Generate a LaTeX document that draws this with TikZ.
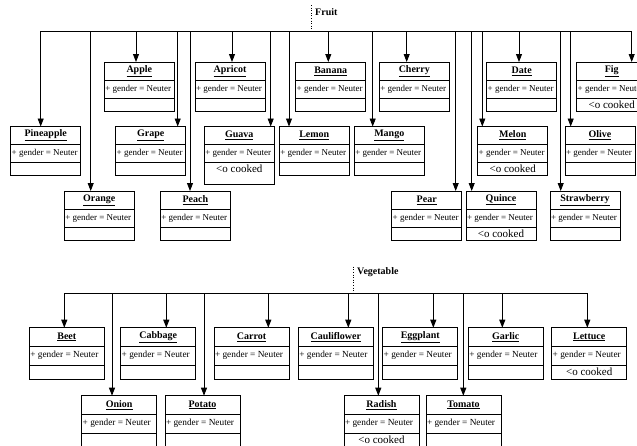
\documentclass[tikz,border=0pt]{standalone}
\usepackage{fontspec}
\setmainfont{Liberation Serif}
\usetikzlibrary{arrows.meta,calc}
\newcommand\bw{70}
\newcommand\da{18}
\newcommand\db{36}
\newcommand\ta{9}
\newcommand\tb{27}
\newcommand\attrsize{9}
\newcommand\busname{fbus}
\tikzset{
  umlcls/.style={draw, line width=0.9pt, inner sep=0pt, outer sep=0pt, fill=white},
  umlline/.style={line width=0.9pt},
  umltitle/.style={inner sep=0pt, font=\bfseries\fontsize{10}{11}\selectfont},
  umlattr/.style={inner sep=0pt, anchor=west, font=\fontsize{\attrsize}{9}\selectfont},
  umlcook/.style={inner sep=0pt, font=\fontsize{11}{12}\selectfont},
  conn/.style={line width=0.9pt, -{Triangle[length=8pt,width=6pt]}},
  busline/.style={line width=0.9pt},
  pkglabel/.style={inner sep=0pt, anchor=west, font=\bfseries\fontsize{10}{11}\selectfont},
  dotline/.style={line width=0.6pt, dotted}
}
% #1 name, #2 left x, #3 top y, #4 drop x, #5 height
\newcommand\cls[5]{%
  \node[umlcls, minimum width=\bw pt, minimum height=#5 pt, anchor=north west] (#1) at (#2,#3) {};
  \draw[umlline] ([yshift=-\da pt]#1.north west) -- ([yshift=-\da pt]#1.north east);
  \draw[umlline] ([yshift=-\db pt]#1.north west) -- ([yshift=-\db pt]#1.north east);
  \node[umltitle] at ([yshift=-\ta pt]#1.north) {\underline{#1}};
  \node[umlattr] at ([yshift=-\tb pt,xshift=0.8pt]#1.north west) {+ gender = Neuter};
  \coordinate (#1-d) at (#4,0 |- \busname);
  \draw[conn] (#1-d) -- (#1-d |- #1.north);
}
\newcommand\cooked[1]{%
  \node[umlcook] at ([yshift=-\db pt-6.3pt]#1.north) {<o cooked};
}
\begin{document}
\begin{tikzpicture}[x=1pt,y=-1pt]
\useasboundingbox (0,0) rectangle (637,445);
\clip (0,0) rectangle (637,445);
\fill[white] (0,0) rectangle (637,445);
% ---------------- Fruit ----------------
\coordinate (fbus) at (0,31);
\coordinate (fdot) at (311.7,5);
\node[pkglabel] (fruit) at (315,12) {Fruit};
\draw[dotline] (fdot) -- (fdot |- fbus);
\cls{Apple}{104.3}{62}{136}{49}
\cls{Apricot}{195}{62}{232}{49}
\cls{Banana}{295.7}{62}{328.3}{49}
\cls{Cherry}{379.3}{62}{406.7}{49}
\cls{Date}{486.7}{62}{519}{49}
\cls{Fig}{576.7}{62}{631.7}{49}
\cooked{Fig}
\cls{Pineapple}{10.7}{126.5}{40.7}{49}
\cls{Grape}{115.7}{126.5}{177.7}{49}
\cls{Guava}{204.3}{126.5}{270.7}{57.5}
\cooked{Guava}
\cls{Lemon}{279.3}{126.5}{289}{49}
\cls{Mango}{354.3}{126.5}{372.7}{49}
\cls{Melon}{477.7}{126.5}{482.3}{49}
\cooked{Melon}
\cls{Olive}{565}{126.5}{570.7}{49}
\cls{Orange}{64.3}{191}{90.7}{49}
\cls{Peach}{160.3}{191}{190}{49}
\cls{Pear}{391.7}{191}{455.7}{49}
\cls{Quince}{466}{191}{471.7}{49}
\cooked{Quince}
\cls{Strawberry}{550}{191}{560.7}{49}
\draw[busline] (Pineapple-d) -- (Fig-d);
% ---------------- Vegetable ----------------
\renewcommand\bw{75}
\renewcommand\da{18.5}
\renewcommand\db{37.5}
\renewcommand\ta{9.25}
\renewcommand\tb{28}
\renewcommand\attrsize{9.3}
\renewcommand\busname{vbus}
\coordinate (vbus) at (0,293.3);
\coordinate (vdot) at (353.3,266.7);
\node[pkglabel] (vegetable) at (357,272) {Vegetable};
\draw[dotline] (vdot) -- (vdot |- vbus);
\cls{Beet}{29.3}{327.7}{64.3}{51.6}
\cls{Cabbage}{120.7}{327.7}{166.3}{51.6}
\cls{Carrot}{214}{327.7}{268.3}{51.6}
\cls{Cauliflower}{298.3}{327.7}{348.3}{51.6}
\cls{Eggplant}{382.7}{327.7}{433.3}{51.6}
\cls{Garlic}{468.3}{327.7}{502.3}{51.6}
\cls{Lettuce}{551.7}{327.7}{587.3}{51.6}
\cooked{Lettuce}
\cls{Onion}{81.7}{395.7}{112}{51.6}
\cls{Potato}{165}{395.7}{204}{51.6}
\cls{Radish}{344}{395.7}{378.3}{60}
\cooked{Radish}
\cls{Tomato}{426}{395.7}{463.3}{51.6}
\draw[busline] (Beet-d) -- (Lettuce-d);
\end{tikzpicture}
\end{document}
